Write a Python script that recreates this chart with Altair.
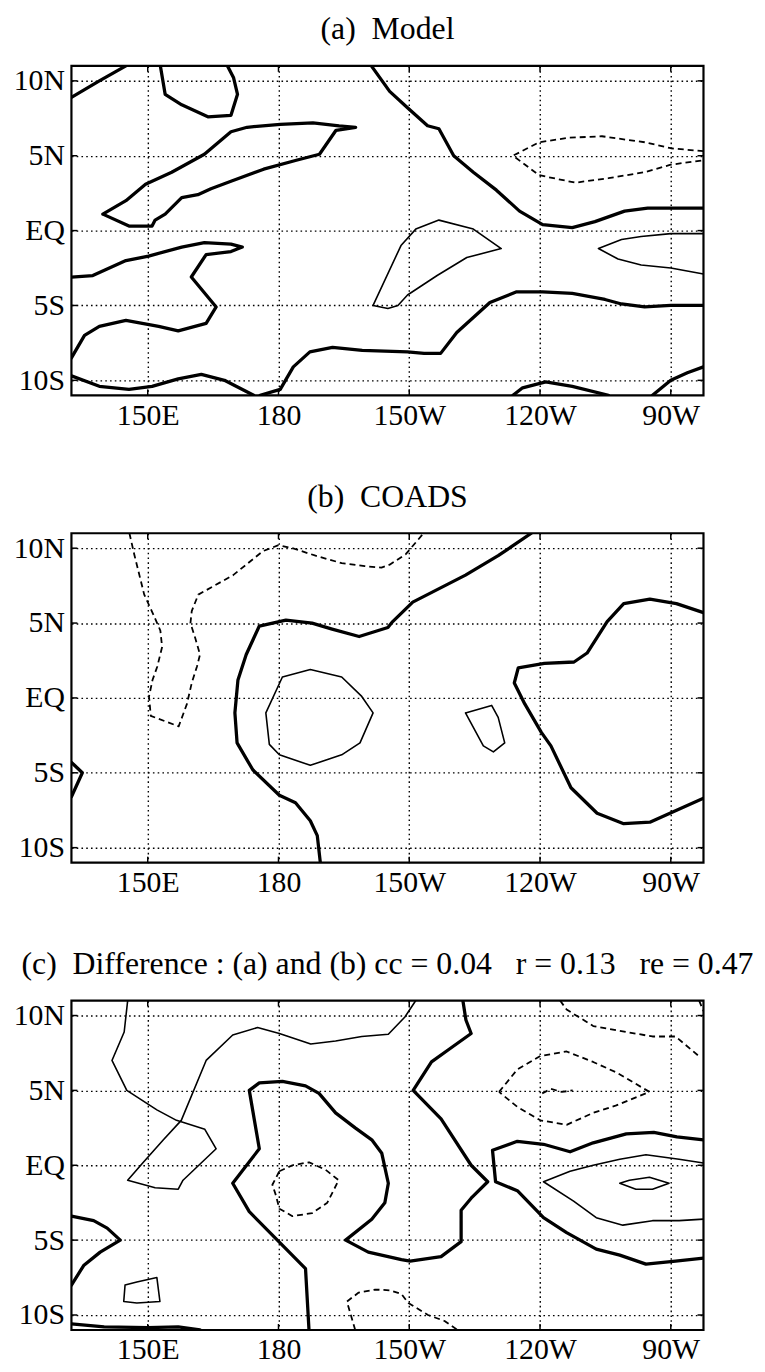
import altair as alt
import pandas as pd

# Map extent and axis labelling
LON_RANGE = [132.5, 277.5]
LAT_RANGE = [-11, 11]
LON_TICKS = [150, 180, 210, 240, 270]
LON_LABELS = ["150E", "180", "150W", "120W", "90W"]
LAT_TICKS = [-10, -5, 0, 5, 10]
LAT_LABELS = ["10S", "5S", "EQ", "5N", "10N"]

NB = "\u00a0"
TITLES = [
    "(a)" + NB * 2 + "Model",
    "(b)" + NB * 2 + "COADS",
    "(c)" + NB * 2 + "Difference : (a) and (b) cc = 0.04" + NB * 3 + "r = 0.13" + NB * 3 + "re = 0.47",
]

# ---- (a) Model: contour polylines as (lon east, lat) ----
MODEL_THICK = [
    [(132.5, 8.9), (138.9, 10.0), (145.0, 11.0)],
    [(152.9, 11.0), (154.0, 9.1), (157.8, 8.4), (163.8, 7.6), (169.1, 7.7), (170.6, 9.1), (169.7, 10.2), (168.3, 11.0)],
    [(139.7, 1.1), (145.0, 2.0), (149.5, 3.1), (155.5, 3.9), (163.0, 5.1), (169.1, 6.6), (172.8, 6.9), (180.4, 7.1),
     (187.9, 7.2), (193.9, 7.0), (197.7, 6.9), (193.2, 6.7), (189.4, 5.1), (184.1, 4.7), (176.6, 4.1), (169.1, 3.3),
     (164.5, 2.8), (161.5, 2.4), (157.8, 2.2), (154.0, 1.1), (151.7, 0.7), (151.0, 0.3), (145.7, 0.3), (139.7, 1.1)],
    [(132.5, -3.1), (137.4, -3.0), (145.0, -2.0), (150.2, -1.7), (157.8, -1.1), (163.0, -0.8), (169.1, -0.9),
     (171.7, -1.1), (169.1, -1.4), (163.4, -1.6), (160.0, -3.1), (165.7, -5.1), (163.4, -6.2), (157.0, -6.7),
     (152.5, -6.4), (145.0, -6.0), (138.9, -6.4), (135.5, -7.0), (132.5, -8.5)],
    [(132.5, -9.7), (138.9, -10.4), (145.7, -10.6), (151.0, -10.4), (157.0, -9.9), (162.3, -9.6), (167.6, -10.0), (174.3, -11.0)],
    [(175.8, -11.0), (180.4, -10.6), (183.4, -9.1), (187.2, -8.1), (192.4, -7.8), (199.2, -8.0), (209.6, -8.1),
     (213.4, -8.2), (217.2, -8.2), (220.9, -6.8), (228.5, -4.8), (234.5, -4.1), (240.6, -4.1), (247.4, -4.2),
     (254.9, -4.6), (258.7, -4.9), (264.0, -5.1), (270.0, -5.0), (277.5, -5.0)],
    [(201.3, 11.0), (205.5, 9.3), (209.6, 8.2), (214.2, 7.0), (216.8, 6.8), (220.2, 5.0), (224.7, 3.9), (230.0, 2.7),
     (235.3, 1.3), (240.6, 0.4), (247.4, 0.2), (252.6, 0.6), (259.4, 1.3), (264.7, 1.5), (277.5, 1.5)],
    [(233.8, -11.0), (236.0, -10.5), (241.3, -10.1), (247.4, -10.4), (255.7, -11.0)],
    [(265.8, -11.0), (270.0, -10.0), (273.8, -9.5), (277.5, -9.1)],
]
MODEL_THIN = [
    [(201.7, -5.0), (208.1, -1.0), (211.5, 0.1), (216.8, 0.7), (224.7, 0.1), (231.1, -1.2), (223.2, -1.8),
     (216.4, -3.0), (209.6, -4.3), (207.4, -5.0), (205.1, -5.2), (201.7, -5.0)],
    [(277.5, -0.2), (270.0, -0.2), (263.2, -0.4), (258.7, -0.6), (253.4, -1.2), (257.9, -1.9), (263.2, -2.3),
     (270.0, -2.5), (277.5, -2.9)],
]
MODEL_DASHED = [
    [(277.5, 5.3), (270.0, 5.5), (264.0, 5.9), (254.2, 6.3), (246.6, 6.2), (239.8, 5.9), (233.8, 5.0), (239.8, 3.7),
     (248.1, 3.2), (255.7, 3.5), (264.0, 3.9), (270.0, 4.4), (277.5, 4.7)],
]

# ---- (b) COADS ----
COADS_THICK = [
    [(238.0, 11.0), (230.4, 9.5), (222.9, 8.2), (210.8, 6.4), (206.2, 5.1), (205.1, 4.7), (198.5, 4.1), (192.3, 4.6),
     (187.7, 5.0), (181.7, 5.2), (175.6, 4.8), (172.6, 2.9), (170.7, 1.2), (170.0, -1.0), (170.5, -3.0),
     (174.1, -4.8), (180.2, -6.5), (183.9, -7.0), (187.3, -8.2), (188.9, -9.2), (189.6, -11.0)],
    [(277.5, 5.7), (271.3, 6.3), (265.2, 6.6), (259.2, 6.3), (255.4, 5.1), (250.8, 3.0), (247.8, 2.4), (241.0, 2.3),
     (235.0, 2.0), (234.1, 1.0), (236.5, -0.4), (240.3, -2.3), (242.5, -3.2), (247.1, -6.0), (253.1, -7.7),
     (259.2, -8.4), (265.2, -8.3), (269.8, -7.7), (277.5, -6.7)],
    [(132.5, -4.3), (135.0, -5.0), (132.5, -6.6)],
]
COADS_THIN = [
    [(180.9, 1.4), (187.3, 1.9), (194.5, 1.4), (199.1, 0.1), (201.7, -1.0), (198.7, -3.0), (194.5, -3.8),
     (187.3, -4.5), (180.2, -3.8), (177.9, -3.1), (177.1, -1.0), (180.9, 1.4)],
    [(222.9, -1.0), (228.9, -0.5), (230.4, -1.3), (231.9, -3.0), (229.3, -3.6), (227.0, -3.2), (222.9, -1.0)],
]
COADS_DASHED = [
    [(145.8, 11.0), (146.9, 9.6), (149.2, 6.9), (151.4, 5.5), (152.9, 4.5), (153.3, 3.4), (152.2, 2.1), (151.1, 1.2),
     (150.3, 0.1), (150.7, -1.2), (157.1, -1.9), (159.0, -0.4), (160.1, 1.0), (161.3, 2.1), (162.0, 2.9),
     (160.9, 4.0), (159.8, 5.0), (160.1, 5.8), (161.6, 6.9), (169.6, 8.2), (176.4, 9.8), (180.0, 10.2),
     (183.2, 10.0), (188.5, 9.5), (194.5, 9.0), (199.8, 8.8), (203.6, 8.7), (205.5, 8.9), (209.2, 9.6),
     (213.0, 10.9), (213.5, 11.0)],
]

# ---- (c) Difference ----
DIFF_THICK = [
    [(187.0, -11.0), (186.2, -6.9), (179.4, -4.9), (173.3, -3.1), (169.5, -1.2), (175.6, 1.1), (173.3, 5.0),
     (175.6, 5.5), (180.9, 5.6), (186.2, 5.3), (189.3, 4.8), (193.1, 3.5), (197.6, 2.5), (201.4, 1.7), (203.7, 0.8),
     (205.2, -1.2), (204.4, -2.5), (201.4, -3.6), (195.4, -5.0), (200.6, -5.8), (208.2, -6.3), (210.2, -6.4),
     (217.3, -6.1), (221.9, -5.1), (221.9, -3.0), (224.2, -2.2), (228.0, -1.1), (224.2, 0.0), (217.3, 3.1),
     (210.9, 5.0), (215.1, 6.9), (218.9, 7.7), (224.2, 8.8), (223.0, 9.7), (222.3, 11.0)],
    [(132.5, -3.4), (137.6, -3.7), (140.7, -4.2), (143.7, -5.0), (139.1, -5.8), (135.3, -6.7), (132.5, -8.0)],
    [(132.5, -10.6), (140.0, -10.8), (150.0, -10.85), (157.0, -10.8), (162.0, -11.0)],
    [(277.5, 1.7), (271.4, 1.9), (266.1, 2.2), (259.8, 2.1), (252.2, 1.5), (246.9, 0.9), (240.8, 1.4), (234.8, 1.6),
     (229.1, 1.0), (229.8, -1.1), (234.8, -1.7), (240.8, -3.5), (246.1, -4.5), (252.9, -5.6), (258.3, -6.0),
     (264.3, -6.6), (271.1, -6.4), (277.5, -6.2)],
]
DIFF_THIN = [
    [(145.4, 11.0), (144.6, 8.9), (141.8, 7.0), (145.2, 5.0), (152.1, 3.7), (156.6, 3.0), (163.1, 2.4), (165.7, 1.1),
     (158.1, -1.0), (157.0, -1.6), (151.7, -1.5), (145.4, -1.0), (149.0, 0.2), (153.6, 1.7), (157.7, 3.0),
     (163.4, 7.0), (169.5, 8.7), (175.2, 9.2), (180.2, 8.8), (187.4, 8.1), (193.1, 8.3), (199.1, 8.6),
     (205.2, 8.75), (209.0, 9.9), (211.5, 11.0)],
    [(144.8, -8.0), (147.5, -7.8), (152.1, -7.5), (152.8, -9.1), (147.5, -9.2), (144.5, -9.1), (144.8, -8.0)],
    [(277.5, 0.15), (271.9, 0.4), (264.3, 0.7), (258.3, 0.4), (252.2, 0.0), (246.9, -0.4), (240.8, -1.1),
     (247.7, -2.4), (252.9, -3.5), (259.0, -4.0), (265.8, -3.7), (271.9, -3.7), (277.5, -3.6)],
    [(258.3, -1.2), (260.5, -1.0), (265.1, -0.8), (269.6, -1.2), (265.8, -1.6), (262.0, -1.6), (258.3, -1.2)],
]
DIFF_DASHED = [
    [(180.2, -0.4), (183.2, 0.0), (187.0, 0.2), (190.8, -0.3), (193.8, -1.0), (191.2, -2.5), (187.7, -3.2),
     (183.2, -3.4), (180.2, -2.9), (179.4, -2.0), (178.6, -1.3), (180.2, -0.4)],
    [(197.6, -11.0), (196.8, -10.2), (195.7, -9.1), (198.4, -8.5), (202.2, -8.3), (205.5, -8.35), (208.2, -8.6),
     (209.8, -9.2), (214.3, -10.0), (218.1, -10.4), (221.1, -11.0)],
    [(230.6, 4.9), (234.8, 6.4), (240.1, 7.3), (246.1, 7.6), (252.2, 6.9), (257.5, 6.2), (265.1, 4.9), (257.5, 4.0),
     (252.2, 3.5), (246.1, 2.7), (240.1, 3.0), (234.8, 3.9), (230.6, 4.9)],
    [(240.5, 4.8), (242.5, 5.1), (245.0, 4.9), (247.5, 5.0)],
    [(244.6, 11.0), (246.1, 10.4), (252.2, 9.3), (259.8, 8.9), (265.8, 8.6), (271.1, 8.6), (276.4, 7.3)],
    [(276.5, 11.0), (277.5, 10.3)],
]

PANELS = [
    (TITLES[0], MODEL_THICK, MODEL_THIN, MODEL_DASHED),
    (TITLES[1], COADS_THICK, COADS_THIN, COADS_DASHED),
    (TITLES[2], DIFF_THICK, DIFF_THIN, DIFF_DASHED),
]

W, H = 637, 332
FONT = "Liberation Serif"
LABEL_SIZE = 30
TITLE_SIZE = 32


def label_expr(values, labels):
    expr = "''"
    for v, lab in zip(values, labels):
        expr = f"datum.value == {v} ? '{lab}' : ({expr})"
    return expr


X_ENC = alt.X(
    "lon:Q",
    scale=alt.Scale(domain=LON_RANGE, nice=False, zero=False),
    axis=alt.Axis(values=LON_TICKS, labelExpr=label_expr(LON_TICKS, LON_LABELS), title=None,
                  grid=True, gridDash=[1.6, 3.2], gridColor="black", gridWidth=1.4, gridOpacity=1,
                  ticks=False, domain=False, labelFont=FONT, labelFontSize=LABEL_SIZE, labelColor="black",
                  labelPadding=5, labelFlush=False),
)
Y_ENC = alt.Y(
    "lat:Q",
    scale=alt.Scale(domain=LAT_RANGE, nice=False, zero=False),
    axis=alt.Axis(values=LAT_TICKS, labelExpr=label_expr(LAT_TICKS, LAT_LABELS), title=None,
                  grid=True, gridDash=[1.6, 3.2], gridColor="black", gridWidth=1.4, gridOpacity=1,
                  ticks=False, domain=False, labelFont=FONT, labelFontSize=LABEL_SIZE, labelColor="black",
                  labelPadding=7, labelFlush=False),
)


def lines_frame(polylines):
    rows = []
    for i, line in enumerate(polylines):
        for j, (lon, lat) in enumerate(line):
            rows.append({"id": i, "ord": j, "lon": lon, "lat": lat})
    return pd.DataFrame(rows)


def contour_layer(polylines, width, dash=None):
    kw = dict(color="black", strokeWidth=width, clip=True, strokeJoin="round", strokeCap="round")
    if dash:
        kw["strokeDash"] = dash
        kw["strokeCap"] = "butt"
    return alt.Chart(lines_frame(polylines)).mark_line(**kw).encode(
        x=X_ENC, y=Y_ENC, detail="id:N", order="ord:Q"
    )


def panel(title, thick, thin, dashed):
    lon_df = pd.DataFrame({"lon": LON_TICKS})
    lat_df = pd.DataFrame({"lat": LAT_TICKS})
    tick_b = alt.Chart(lon_df).mark_rule(color="black", strokeWidth=1.5).encode(
        x=X_ENC, y=alt.value(H), y2=alt.value(H - 6))
    tick_t = alt.Chart(lon_df).mark_rule(color="black", strokeWidth=1.5).encode(
        x=X_ENC, y=alt.value(0), y2=alt.value(6))
    tick_l = alt.Chart(lat_df).mark_rule(color="black", strokeWidth=1.5).encode(
        y=Y_ENC, x=alt.value(0), x2=alt.value(6))
    tick_r = alt.Chart(lat_df).mark_rule(color="black", strokeWidth=1.5).encode(
        y=Y_ENC, x=alt.value(W), x2=alt.value(W - 6))
    layers = [
        tick_b, tick_t, tick_l, tick_r,
        contour_layer(dashed, 1.8, [6, 4]),
        contour_layer(thin, 1.6),
        contour_layer(thick, 3.3),
    ]
    return alt.layer(*layers).properties(
        width=W, height=H,
        title=alt.TitleParams(title, font=FONT, fontSize=TITLE_SIZE, fontWeight="normal", color="black",
                              anchor="middle", offset=19),
    )


chart = alt.vconcat(*[panel(*p) for p in PANELS], spacing=48).properties(
    padding={"left": 12, "top": 7, "right": 10, "bottom": 5},
    background="white",
).configure_view(stroke="black", strokeWidth=2.2)

chart.save("out.html", embed_options={"renderer": "svg", "actions": False})
